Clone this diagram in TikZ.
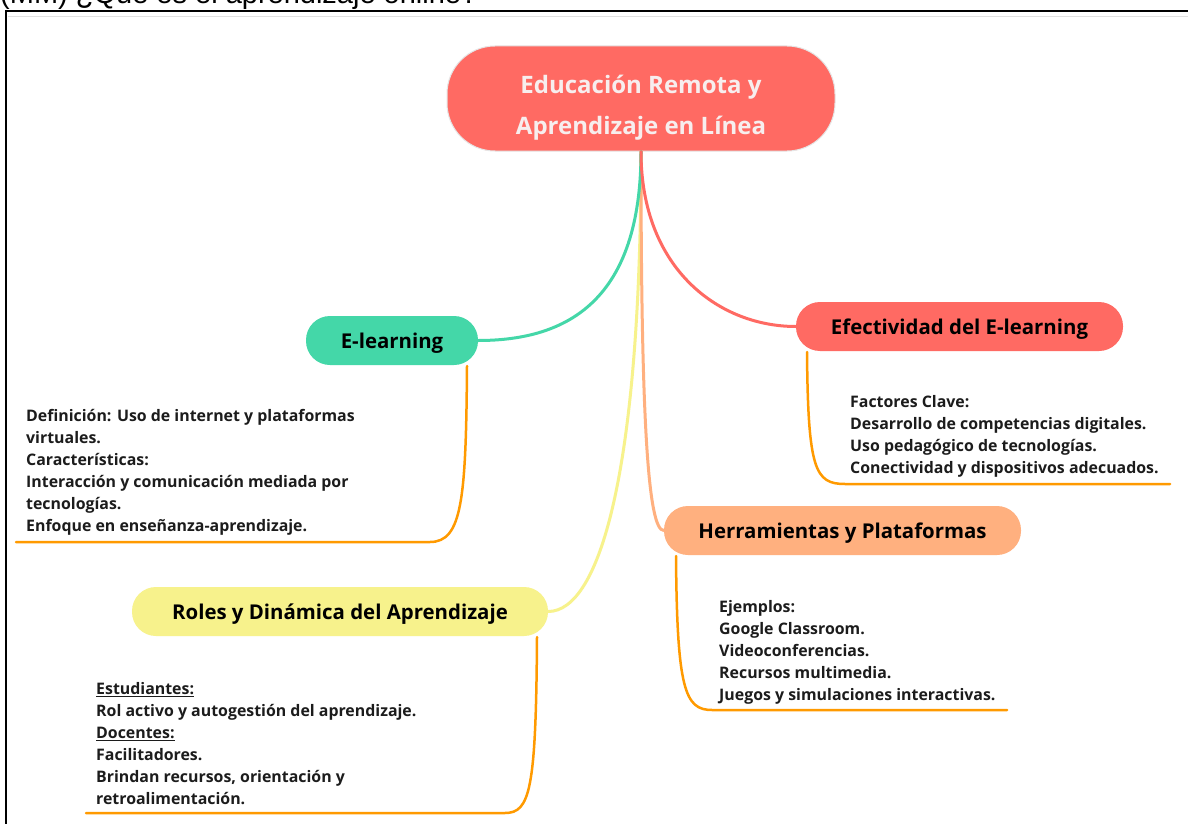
\documentclass[tikz,border=0pt]{standalone}
\usepackage{fontspec}
\setmainfont{Open Sans}
\newfontfamily\capfont{Liberation Sans}
\usetikzlibrary{calc}
\definecolor{mmred}{HTML}{FF6A63}
\definecolor{mmgreen}{HTML}{44D7A8}
\definecolor{mmpeach}{HTML}{FFB07F}
\definecolor{mmyellow}{HTML}{F7F28C}
\definecolor{mmorange}{HTML}{FF9A00}
\definecolor{inkdark}{HTML}{1C1C1C}
\definecolor{rootink}{HTML}{F7EEEE}
\begin{document}
\begin{tikzpicture}[x=1pt,y=-1pt,
  topic/.style={rounded corners=24pt, minimum height=49pt, inner sep=0pt,
    text height=18pt, text depth=3pt,
    font=\fontsize{20.4}{24}\selectfont\bfseries, text=black},
  branch/.style={line width=3pt, line cap=round},
  detail/.style={draw=mmorange, line width=2.5pt, line cap=round},
  notes/.style={anchor=north west, align=left, inner sep=0pt,
    font=\fontsize{15.9}{21.9}\selectfont\bfseries, text=inkdark,
    execute at begin node={\rule{0pt}{12pt}}}]
\useasboundingbox (0,0) rectangle (1188,824);
\clip (0,0) rectangle (1188,824);
\fill[white] (0,0) rectangle (1188,824);

% heading above the frame, partly cut by the page edge
\node[anchor=base west, inner sep=0pt, font=\capfont\fontsize{29}{29}\selectfont] (caption) at (0,4) {(MM) ¿Qué es el aprendizaje online?};

% frame of the canvas
\draw[black!12, line width=1pt] (8,16.5) -- (1188,16.5);
\draw[line width=2pt] (1188,11) -- (6,11) -- (6,824);

% topics
\node[fill=mmred, draw=black!10, line width=1pt, rounded corners=48pt,
  minimum width=388pt, minimum height=105pt, inner sep=0pt] (root) at (641,98.5) {};
\node[align=center, inner sep=0pt, text=rootink,
  font=\fontsize{24}{41}\selectfont\bfseries] (rootlabel) at (641,108)
  {Educación Remota y\\Aprendizaje en Línea};
\node[topic, fill=mmgreen, minimum width=172pt] (elearn) at (392,340.5) {E-learning};
\node[topic, fill=mmred, minimum width=327pt] (efect) at (959.5,326.5) {Efectividad del E-learning};
\node[topic, fill=mmpeach, minimum width=357pt] (herr) at (842.5,530.5) {Herramientas y Plataformas};
\node[topic, fill=mmyellow, minimum width=416pt] (roles) at (340,611.5) {Roles y Dinámica del Aprendizaje};

% branches from the central topic
\draw[branch, mmyellow] (root.south) .. controls (641,470) and (600,611.5) .. (roles.east);
\draw[branch, mmpeach] (root.south) .. controls (641,420) and (648,530.5) .. (herr.west);
\draw[branch, mmgreen] (root.south) .. controls (641,300) and (568,340.5) .. (elearn.east);
\draw[branch, mmred] (root.south) .. controls (641,270) and (720,326.5) .. (efect.west);

% detail brackets
\coordinate (e0) at (467,366);
\coordinate (e1) at (16,542);
\draw[detail] (e0) .. controls (466,500) and (462,542) .. (430,542) -- (e1);
\coordinate (f0) at (807,352);
\coordinate (f1) at (1170,484);
\draw[detail] (f0) .. controls (808,470) and (815,484) .. (845,484) -- (f1);
\coordinate (h0) at (676,556);
\coordinate (h1) at (1007,710);
\draw[detail] (h0) .. controls (677,690) and (685,710) .. (712,710) -- (h1);
\coordinate (r0) at (537,637);
\coordinate (r1) at (86,813);
\draw[detail] (r0) .. controls (536,790) and (530,813) .. (505,813) -- (r1);

% notes
\node[notes] (enotes) at (26,409.5) {Definición: Uso de internet y plataformas\\virtuales.\\Características:\\Interacción y comunicación mediada por\\tecnologías.\\Enfoque en enseñanza-aprendizaje.};
\node[notes] (fnotes) at (850,395.5) {Factores Clave:\\Desarrollo de competencias digitales.\\Uso pedagógico de tecnologías.\\Conectividad y dispositivos adecuados.};
\node[notes] (hnotes) at (719,600.5) {Ejemplos:\\Google Classroom.\\Videoconferencias.\\Recursos multimedia.\\Juegos y simulaciones interactivas.};
\node[notes] (rnotes) at (96,682.5) {\underline{Estudiantes:}\\Rol activo y autogestión del aprendizaje.\\\underline{Docentes:}\\Facilitadores.\\Brindan recursos, orientación y\\retroalimentación.};
\end{tikzpicture}
\end{document}
